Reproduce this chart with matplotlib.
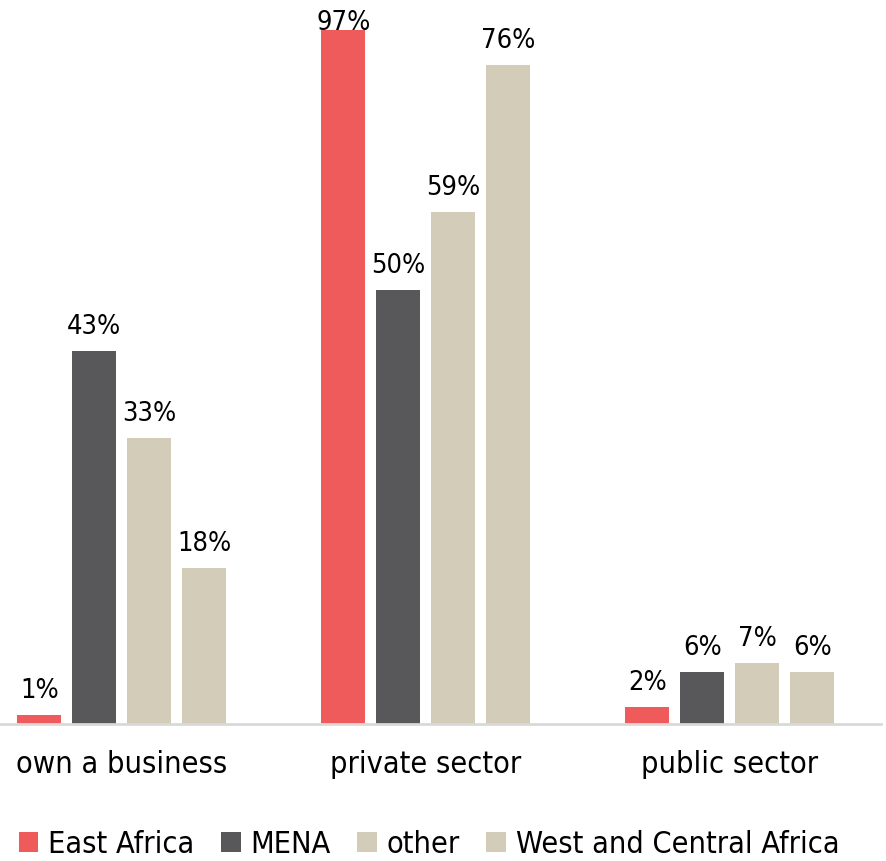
import numpy as np
import matplotlib.pyplot as plt

plt.rcParams['font.family'] = ['DejaVu Sans']
plt.rcParams['font.stretch'] = 'condensed'

categories = ['own a business', 'private sector', 'public sector']
series = ['East Africa', 'MENA', 'other', 'West and Central Africa']
values = {
    'East Africa': [1, 97, 2],
    'MENA': [43, 50, 6],
    'other': [33, 59, 7],
    'West and Central Africa': [18, 76, 6],
}
colors = ['#EF5A5B', '#58585A', '#D3CCB9', '#D3CCB9']

ymax = 80
width = 0.145
step = 0.181

fig = plt.figure(figsize=(8.86, 8.61), dpi=100)
ax = fig.add_axes([0, 137 / 861, 881 / 886, 694 / 861])

x = np.arange(len(categories))
for i, (name, col) in enumerate(zip(series, colors)):
    pos = x + (i - 1.5) * step
    vals = values[name]
    ax.bar(pos, vals, width, color=col, label=name)
    for px, v in zip(pos, vals):
        if v > ymax:
            # bar runs off the top, keep its label inside the plot
            ax.annotate('%d%%' % v, (px, ymax), ha='center', va='baseline',
                        fontsize=19.5, annotation_clip=False)
        else:
            ax.annotate('%d%%' % v, (px, v), xytext=(0, 8),
                        textcoords='offset points', ha='center', va='bottom',
                        fontsize=19.5)

ax.set_xlim(-0.401, 2.497)
ax.set_ylim(0, ymax)
ax.set_xticks(x)
ax.set_xticklabels(categories, fontsize=22)
ax.tick_params(axis='x', length=0, pad=19)
ax.set_yticks([])
for side in ['top', 'left', 'right']:
    ax.spines[side].set_visible(False)
ax.spines['bottom'].set_color('#D9D9D9')
ax.spines['bottom'].set_linewidth(2)

ax.legend(loc='lower left', bbox_to_anchor=(0.021, -0.194), ncol=4,
          frameon=False, fontsize=22, handlelength=0.65, handleheight=0.65,
          handletextpad=0.33, columnspacing=0.85, borderaxespad=0, borderpad=0)

fig.savefig('out.png', dpi=100)
